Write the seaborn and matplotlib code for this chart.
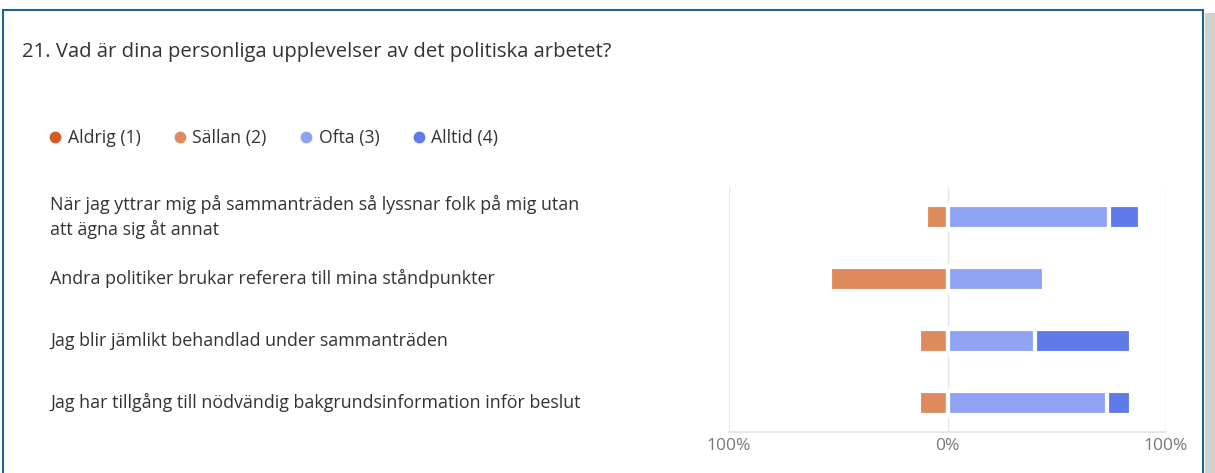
import matplotlib
matplotlib.use("Agg")
import matplotlib.pyplot as plt
import matplotlib.patches as mpatches
from matplotlib.lines import Line2D
from matplotlib.transforms import blended_transform_factory
import seaborn as sns
import pandas as pd

questions = [
    "När jag yttrar mig på sammanträden så lyssnar folk på mig utan\natt ägna sig åt annat",
    "Andra politiker brukar referera till mina ståndpunkter",
    "Jag blir jämlikt behandlad under sammanträden",
    "Jag har tillgång till nödvändig bakgrundsinformation inför beslut",
]
series = ["Aldrig (1)", "Sällan (2)", "Ofta (3)", "Alltid (4)"]
aldrig = [0, 0, 0, 0]
sallan = [10, 54, 13, 13]
ofta = [74, 44, 40, 73]
alltid = [14, 0, 44, 11]
colors = ["#d35b26", "#de8a5c", "#8fa3f2", "#5f7bea"]
tick_labels = ["100%", "0%", "100%"]

sns.set_theme(style="white")
plt.rcParams["font.family"] = ["Open Sans", "DejaVu Sans"]

W, H = 1215, 473
fig = plt.figure(figsize=(W / 100, H / 100), dpi=100)
fig.patch.set_facecolor("white")

ax = fig.add_axes([729 / W, 1 - 432 / H, (1166 - 729) / W, (432 - 187) / H])

ids = list(range(len(questions)))
df = pd.DataFrame({
    "q": ids,
    "neg_outer": [-(a + s) for a, s in zip(aldrig, sallan)],
    "neg_inner": [-s for s in sallan],
    "pos_outer": [o + l for o, l in zip(ofta, alltid)],
    "pos_inner": ofta,
})

kw = dict(orient="h", width=0.39, edgecolor="white", linewidth=3, native_scale=True,
          saturation=1, ax=ax)
sns.barplot(data=df, x="neg_outer", y="q", color=colors[0], **kw)
sns.barplot(data=df, x="neg_inner", y="q", color=colors[1], **kw)
sns.barplot(data=df, x="pos_outer", y="q", color=colors[3], **kw)
sns.barplot(data=df, x="pos_inner", y="q", color=colors[2], **kw)

ax.set_xlim(-100, 100)
ax.set_ylim(3.47, -0.48)
ax.set_xticks([-100, 0, 100])
ax.set_xticklabels(tick_labels, color="#777777", fontsize=12.5)
ax.set_yticks([])
ax.set_xlabel("")
ax.set_ylabel("")
ax.tick_params(axis="x", length=0, pad=4)
for s in ["top", "left", "right"]:
    ax.spines[s].set_visible(False)
ax.spines["bottom"].set_color("#e3e3e3")
for x in [-100, 0, 100]:
    ax.axvline(x, color="#e6e6e6", lw=1, zorder=0)

tr = blended_transform_factory(fig.transFigure, ax.transData)
for i, q in enumerate(questions):
    ax.text(50 / W, i, q, transform=tr, ha="left", va="center", fontsize=12.9,
            color="#333333", linespacing=1.4)

fig.text(22 / W, 1 - 52 / H, "21. Vad är dina personliga upplevelser av det politiska arbetet?",
         fontsize=14.6, color="#333333", va="center", ha="left")

handles = [Line2D([0], [0], marker="o", color="none", markerfacecolor=c, markeredgecolor=c,
                  markersize=7.5) for c in colors]
fig.legend(handles, series, loc="center left", bbox_to_anchor=(28 / W, 1 - 138 / H), ncol=4,
           frameon=False, fontsize=12.7, handletextpad=0.05, columnspacing=1.6, handlelength=1.3,
           labelcolor="#333333")

# frame
fig.add_artist(mpatches.Rectangle((3 / W, -0.05), (1203 - 3) / W, 1.05 - 10 / H,
                                  transform=fig.transFigure, fill=False,
                                  edgecolor="#1f6391", lw=1.5))
fig.add_artist(mpatches.Rectangle((1205 / W, 0), 10 / W, 1 - 13 / H, transform=fig.transFigure,
                                  facecolor="#d0d0d0", edgecolor="none"))

fig.savefig("out.png", dpi=100)
